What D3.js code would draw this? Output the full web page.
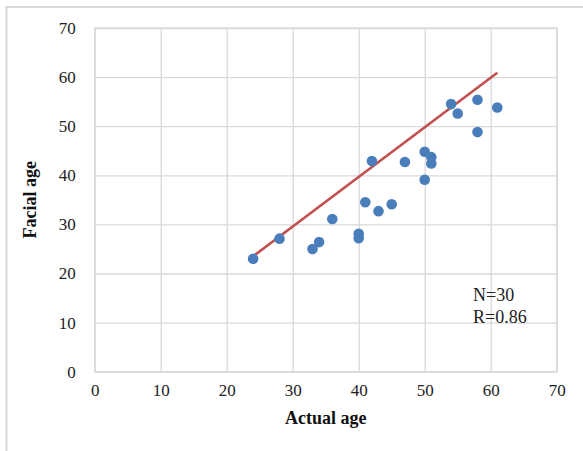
<!DOCTYPE html>
<html>
<head>
<meta charset="utf-8">
<script src="https://cdn.jsdelivr.net/npm/d3@7"></script>
<style>
html,body{margin:0;padding:0;background:#fff;}
svg{display:block;}
</style>
</head>
<body>
<svg id="chart" width="583" height="451"></svg>
<script>
const actualAge = [24, 28, 33, 34, 36, 40, 40, 41, 42, 43, 45, 47, 50, 50, 51, 51, 54, 55, 58, 58, 61];
const facialAge = [23, 27.1, 25, 26.4, 31.1, 28.1, 27.2, 34.5, 42.9, 32.7, 34.1, 42.7, 39.1, 44.8, 43.7, 42.4, 54.5, 52.6, 55.4, 48.8, 53.8];
const fitLineX = [24, 61];
const fitLineY = [23.5, 60.9];
const xTicks = [0, 10, 20, 30, 40, 50, 60, 70];
const yTicks = [0, 10, 20, 30, 40, 50, 60, 70];
const xTitle = "Actual age";
const yTitle = "Facial age";
const annotations = ["N=30", "R=0.86"];

const svg = d3.select("#chart");
const grid = "#d9d9d9";
const font = "'Liberation Serif','Times New Roman',serif";

// outer frame
svg.append("rect").attr("x", 6.5).attr("y", 7).attr("width", 600).attr("height", 500)
  .attr("fill", "none").attr("stroke", grid).attr("stroke-width", 2);

const L = 94.7, R = 556.7, T = 28, B = 371.7;
const x = d3.scaleLinear().domain([0, 70]).range([L, R]);
const y = d3.scaleLinear().domain([0, 70]).range([B, T]);

// gridlines
const xAxis = d3.axisBottom(x).tickValues(xTicks).tickSize(-(B - T)).tickPadding(8).tickFormat(d3.format("d"));
const yAxis = d3.axisLeft(y).tickValues(yTicks).tickSize(-(R - L)).tickPadding(19).tickFormat(d3.format("d"));

const gx = svg.append("g").attr("transform", `translate(0,${B})`).call(xAxis);
const gy = svg.append("g").attr("transform", `translate(${L},0)`).call(yAxis);
[gx, gy].forEach(g => {
  g.select(".domain").remove();
  g.selectAll(".tick line").attr("stroke", grid).attr("stroke-width", 1.3);
  g.selectAll(".tick text").attr("fill", "#222").style("font-family", font).style("font-size", "17px");
});
gx.selectAll(".tick text").attr("dy", "0.95em");
// plot border
svg.append("rect").attr("x", L).attr("y", T).attr("width", R - L).attr("height", B - T)
  .attr("fill", "none").attr("stroke", grid).attr("stroke-width", 1.3);

// fit line
const lineData = fitLineX.map((v, i) => [v, fitLineY[i]]);
svg.append("path").datum(lineData)
  .attr("d", d3.line().x(d => x(d[0])).y(d => y(d[1])))
  .attr("stroke", "#c0504d").attr("stroke-width", 2.6).attr("fill", "none");

// points
svg.append("g").selectAll("circle").data(actualAge.map((v, i) => [v, facialAge[i]]))
  .join("circle")
  .attr("cx", d => x(d[0])).attr("cy", d => y(d[1])).attr("r", 5.3)
  .attr("fill", "#4a7ebb");

// titles
svg.append("text").attr("x", (L + R) / 2).attr("y", 424).attr("text-anchor", "middle")
  .style("font-family", font).style("font-size", "18px").style("font-weight", "bold").attr("fill", "#111")
  .text(xTitle);
svg.append("text").attr("transform", `translate(36,${(T + B) / 2}) rotate(-90)`).attr("text-anchor", "middle")
  .style("font-family", font).style("font-size", "18px").style("font-weight", "bold").attr("fill", "#111")
  .text(yTitle);

// annotations
annotations.forEach((t, i) => {
  svg.append("text").attr("x", 473).attr("y", 300.5 + i * 22.5)
    .style("font-family", font).style("font-size", "18px").attr("fill", "#222").text(t);
});
</script>
</body>
</html>
